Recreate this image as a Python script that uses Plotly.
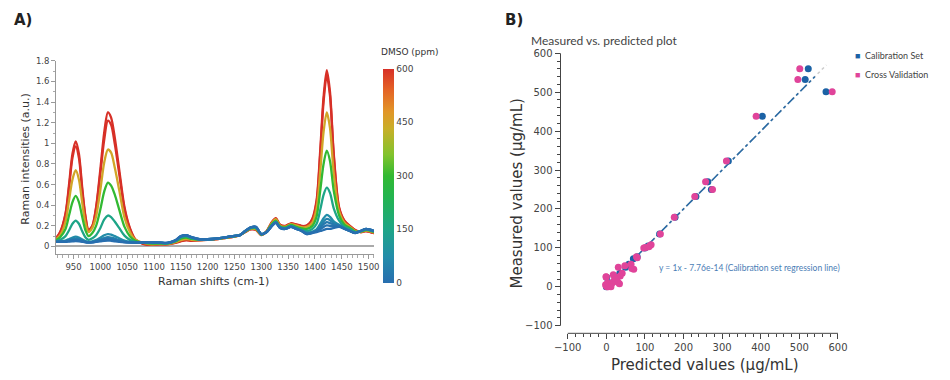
import plotly.graph_objects as go
from plotly.colors import sample_colorscale

# ---------------- Panel A data: Raman spectra ----------------
raman_shift = [917, 925, 935, 942, 948, 954, 960, 966, 972, 978, 985, 992, 1000, 1007, 1014, 1020,
               1027, 1035, 1045, 1055, 1065, 1080, 1095, 1110, 1125, 1140, 1150, 1160, 1170, 1185,
               1200, 1215, 1230, 1245, 1260, 1270, 1280, 1290, 1300, 1310, 1320, 1327, 1335, 1345,
               1355, 1365, 1375, 1385, 1395, 1403, 1410, 1416, 1422, 1428, 1435, 1445, 1455, 1465,
               1475, 1485, 1495, 1510]

dmso_ppm = [600, 600, 450, 300, 150, 75, 50, 25, 10, 0]

spec_600a = [.08, .14, .32, .62, .90, 1.02, .90, .58, .30, .16, .20, .38, .75, 1.10, 1.30, 1.25,
             1.05, .75, .38, .18, .07, .025, .015, .02, .02, .035, .05, .06, .055, .06,
             .065, .07, .08, .09, .11, .14, .165, .16, .11, .15, .24, .275, .21, .20,
             .225, .215, .20, .20, .27, .45, .95, 1.45, 1.71, 1.50, .90, .38, .25, .20,
             .16, .14, .15, .13]
spec_600b = [.078, .135, .31, .59, .86, .97, .86, .55, .29, .155, .195, .37, .71, 1.03, 1.22, 1.18,
             .99, .71, .36, .17, .068, .026, .017, .022, .022, .038, .055, .065, .058, .062,
             .066, .071, .081, .09, .11, .14, .168, .165, .112, .148, .235, .27, .208, .198,
             .222, .212, .198, .205, .26, .43, .91, 1.40, 1.66, 1.46, .88, .37, .245, .198,
             .158, .14, .15, .13]
spec_450 = [.07, .11, .24, .46, .65, .74, .65, .43, .23, .14, .18, .29, .55, .81, .94, .91,
            .76, .55, .28, .14, .065, .035, .02, .025, .024, .041, .062, .072, .064, .062,
            .066, .071, .081, .092, .11, .142, .17, .167, .112, .147, .23, .264, .202, .192,
            .216, .204, .187, .19, .23, .37, .74, 1.11, 1.30, 1.15, .71, .34, .23, .19,
            .15, .14, .155, .135]
spec_300 = [.06, .09, .17, .31, .43, .49, .43, .29, .16, .10, .13, .20, .36, .53, .62, .59,
            .50, .36, .19, .10, .055, .038, .028, .029, .028, .048, .075, .085, .073, .065,
            .068, .073, .083, .095, .11, .145, .175, .175, .115, .145, .22, .25, .195, .185,
            .21, .19, .175, .17, .20, .29, .55, .80, .93, .83, .54, .30, .21, .18,
            .145, .145, .16, .14]
spec_150 = [.05, .065, .10, .16, .22, .25, .22, .15, .09, .065, .08, .11, .18, .26, .30, .285,
            .24, .18, .105, .064, .045, .04, .034, .034, .031, .054, .087, .097, .081, .067,
            .069, .074, .084, .097, .11, .148, .18, .182, .118, .142, .21, .24, .188, .178,
            .20, .18, .16, .15, .17, .22, .36, .50, .57, .52, .37, .25, .19, .17,
            .14, .15, .165, .145]
spec_75 = [.046, .05, .057, .073, .087, .095, .087, .069, .052, .044, .05, .062, .085, .108, .12, .115,
           .10, .08, .057, .045, .04, .04, .037, .036, .033, .057, .094, .104, .086, .069,
           .07, .075, .085, .099, .11, .149, .183, .186, .119, .141, .205, .236, .184, .174,
           .194, .176, .156, .134, .142, .167, .221, .274, .306, .288, .244, .21, .177, .152,
           .134, .149, .168, .148]
spec_50 = [.046, .048, .053, .064, .073, .079, .073, .06, .047, .042, .045, .054, .068, .082, .09, .086,
           .076, .063, .049, .042, .039, .04, .038, .036, .034, .058, .096, .106, .087, .069,
           .07, .075, .085, .099, .11, .15, .183, .188, .12, .141, .203, .234, .183, .173,
           .193, .174, .154, .13, .139, .16, .20, .242, .268, .255, .226, .205, .175, .151,
           .132, .15, .169, .149]
spec_25 = [.045, .047, .049, .057, .063, .067, .063, .053, .044, .04, .043, .05, .061, .072, .078, .074,
           .066, .056, .045, .04, .038, .04, .039, .037, .034, .059, .098, .108, .089, .07,
           .07, .075, .085, .10, .11, .15, .184, .189, .12, .14, .202, .232, .181, .171,
           .191, .172, .152, .122, .136, .153, .184, .215, .236, .227, .211, .20, .173, .151,
           .131, .15, .17, .15]
spec_10 = [.045, .046, .047, .052, .057, .059, .057, .049, .042, .039, .041, .047, .056, .064, .068, .065,
           .058, .05, .042, .039, .038, .04, .04, .038, .035, .06, .10, .11, .09, .07,
           .07, .075, .085, .10, .11, .15, .185, .19, .12, .14, .20, .23, .18, .17,
           .19, .17, .15, .121, .133, .147, .168, .19, .205, .20, .196, .195, .172, .15,
           .13, .15, .17, .15]
spec_0 = [.045, .045, .045, .048, .05, .052, .05, .045, .04, .038, .04, .045, .05, .055, .058, .055,
          .05, .045, .04, .038, .038, .04, .04, .038, .035, .06, .10, .11, .09, .07,
          .07, .075, .085, .10, .11, .15, .185, .19, .12, .14, .20, .23, .18, .17,
          .19, .17, .15, .12, .13, .14, .15, .16, .17, .17, .18, .19, .17, .15,
          .13, .15, .17, .15]
spectra = [spec_600a, spec_600b, spec_450, spec_300, spec_150, spec_75, spec_50, spec_25, spec_10, spec_0]

cbar_ticks = [0, 150, 300, 450, 600]

# ---------------- Panel B data: measured vs predicted ----------------
cal_pred = [523, 515, 569, 404, 316, 263, 272, 232, 178, 138, 100, 108, 80, 70, 58, 50, 35, 25, 12, 5, 0, 1]
cal_meas = [560, 533, 501, 438, 323, 270, 250, 232, 179, 136, 100, 105, 77, 72, 58, 50, 35, 25, 10, 5, 0, 24]

cv_pred = [501, 496, 585, 388, 311, 257, 275, 229, 176, 140, 97, 102, 110, 116, 112, 78, 80, 71, 64, 66,
           48, 31, 41, 36, 28, 24, 34, 30, 20, 15, 10, 5, 2, 0, -2, 3, 8, 12, 0, -1, 18, 22]
cv_meas = [560, 533, 501, 438, 323, 270, 250, 232, 179, 136, 100, 101, 103, 108, 105, 77, 75, 45, 58, 47,
           54, 50, 35, 28, 24, 20, 8, 12, 15, 10, 5, 0, 0, 2, 5, 10, 3, 0, 25, 26, 31, 22]

reg_slope = 1.0
reg_intercept = -7.76e-14
reg_x = [10, 540]
identity_x = [0, 570]

# ---------------- styling ----------------
cscale = [[0.0, 'rgb(40,110,175)'], [0.12, 'rgb(35,140,170)'], [0.25, 'rgb(30,165,135)'],
          [0.4, 'rgb(35,180,80)'], [0.5, 'rgb(50,185,50)'], [0.6, 'rgb(130,195,45)'],
          [0.72, 'rgb(200,175,40)'], [0.8, 'rgb(225,150,40)'], [0.9, 'rgb(228,100,38)'],
          [1.0, 'rgb(215,48,39)']]
VER = 'DejaVu Sans'
LATO = 'Lato'
CAL_COL = '#1b62a5'
CV_COL = '#e0449a'

fig = go.Figure()

# spectra
for conc, ys in zip(dmso_ppm, spectra):
    col = sample_colorscale(cscale, [conc / 600])[0]
    fig.add_trace(go.Scatter(x=raman_shift, y=ys, mode='lines',
                             line=dict(color=col, width=2.3, shape='spline', smoothing=0.8),
                             showlegend=False, hoverinfo='skip', xaxis='x', yaxis='y'))

# colorbar carrier
fig.add_trace(go.Scatter(x=[None], y=[None], mode='markers', showlegend=False, hoverinfo='skip',
                         xaxis='x', yaxis='y',
                         marker=dict(color=[0, 600], cmin=0, cmax=600, colorscale=cscale, showscale=True,
                                     colorbar=dict(x=381 / 950, xanchor='left', xpad=0, ypad=0,
                                                   y=1 - 172.85 / 380, yanchor='middle',
                                                   lenmode='pixels', len=214, thickness=11,
                                                   outlinewidth=0, tickvals=cbar_ticks, ticks='',
                                                   tickfont=dict(family=VER, size=9, color='#444')))))

# panel B lines
fig.add_trace(go.Scatter(x=identity_x, y=identity_x, mode='lines',
                         line=dict(color='#cccccc', width=1.5, dash='dot'),
                         showlegend=False, hoverinfo='skip', xaxis='x2', yaxis='y2'))
fig.add_trace(go.Scatter(x=reg_x, y=[reg_slope * v + reg_intercept for v in reg_x], mode='lines',
                         line=dict(color='#2a6aa3', width=1.6, dash='dashdot'),
                         showlegend=False, hoverinfo='skip', xaxis='x2', yaxis='y2'))
fig.add_trace(go.Scatter(x=cal_pred, y=cal_meas, mode='markers', name='Calibration Set',
                         marker=dict(color=CAL_COL, size=7), showlegend=False,
                         xaxis='x2', yaxis='y2'))
fig.add_trace(go.Scatter(x=cv_pred, y=cv_meas, mode='markers', name='Cross Validation',
                         marker=dict(color=CV_COL, size=7), showlegend=False,
                         xaxis='x2', yaxis='y2'))

axA = dict(showgrid=False, showline=True, linecolor='#999', linewidth=1, ticks='outside',
           ticklen=4, tickcolor='#999', tickfont=dict(family=VER, size=8.5, color='#444'))
axB = dict(showgrid=False, showline=False, zeroline=False, ticks='outside', ticklen=5,
           tickcolor='#444', tickfont=dict(family=VER, size=10, color='#444'),
           dtick=100, tick0=0, minor=dict(ticks='outside', dtick=20, ticklen=3, tickcolor='#444'))

fig.update_layout(
    width=950, height=380, margin=dict(l=0, r=0, t=0, b=0),
    paper_bgcolor='white', plot_bgcolor='white', showlegend=False,
    xaxis=dict(**axA, domain=[50.7 / 950, 372.3 / 950], range=[917.5, 1510], anchor='y',
               dtick=50, tick0=950, zeroline=False,
               minor=dict(ticks='outside', dtick=10, ticklen=2.5, tickcolor='#aaa')),
    yaxis=dict(**axA, domain=[1 - 252.7 / 380, 1 - 56.6 / 380], range=[-0.0766, 1.8], anchor='x',
               dtick=0.2, tick0=0, zeroline=True, zerolinecolor='#aaa', zerolinewidth=1.5,
               minor=dict(ticks='outside', dtick=0.1, ticklen=2.5, tickcolor='#aaa')),
    xaxis2=dict(**axB, domain=[561 / 950, 847.6 / 950], range=[-118.7, 615], anchor='y2'),
    yaxis2=dict(**axB, domain=[1 - 332.7 / 380, 1 - 45 / 380], range=[-119.5, 610], anchor='x2'),
)

# panel B axis lines (span -100..600 only)
fig.add_shape(type='line', xref='x2 domain', yref='y2', x0=0, x1=0, y0=-100, y1=600,
              line=dict(color='#444', width=1))
fig.add_shape(type='line', xref='x2', yref='y2 domain', x0=-100, x1=600, y0=0, y1=0,
              line=dict(color='#444', width=1))

ann = [
    dict(text='<b>A)</b>', x=6 / 950, y=1 - 15 / 380, xanchor='left', yanchor='middle',
         font=dict(family=VER, size=15, color='#222')),
    dict(text='<b>B)</b>', x=503 / 950, y=1 - 15 / 380, xanchor='left', yanchor='middle',
         font=dict(family=VER, size=15, color='#222')),
    dict(text='Raman intensities (a.u.)', x=20 / 950, y=1 - 156 / 380, textangle=-90,
         xanchor='center', yanchor='middle', font=dict(family=VER, size=11, color='#333')),
    dict(text='Raman shifts (cm-1)', x=210 / 950, y=1 - 280 / 380, xanchor='center', yanchor='middle',
         font=dict(family=VER, size=11, color='#333')),
    dict(text='DMSO (ppm)', x=377 / 950, y=1 - 47.5 / 380, xanchor='left', yanchor='middle',
         font=dict(family=VER, size=9, color='#333')),
    dict(text='Measured vs. predicted plot', x=529 / 950, y=1 - 36 / 380, xanchor='left',
         yanchor='middle', font=dict(family=LATO, size=12, color='#444')),
    dict(text='Measured values (µg/mL)', x=517 / 950, y=1 - 191 / 380, textangle=-90,
         xanchor='center', yanchor='middle', font=dict(family=VER, size=15, color='#333')),
    dict(text='Predicted values (µg/mL)', x=707.5 / 950, y=1 - 365 / 380, xanchor='center',
         yanchor='middle', font=dict(family=VER, size=15, color='#333')),
    dict(text='y = 1x - 7.76e-14 (Calibration set regression line)', x=659 / 950, y=1 - 266 / 380,
         xanchor='left', yanchor='middle', font=dict(family=LATO, size=8.5, color='#4a7db5')),
    dict(text='<span style="color:%s">■</span>  Calibration Set' % CAL_COL, x=857 / 950,
         y=1 - 51 / 380, xanchor='left', yanchor='middle', font=dict(family=LATO, size=9, color='#444')),
    dict(text='<span style="color:%s">■</span>  Cross Validation' % CV_COL, x=857 / 950,
         y=1 - 70 / 380, xanchor='left', yanchor='middle', font=dict(family=LATO, size=9, color='#444')),
]
for a in ann:
    fig.add_annotation(xref='paper', yref='paper', showarrow=False, **a)

fig.write_html('out.html', config={'displayModeBar': False},
               post_script="document.body.style.margin='0';document.body.style.overflow='hidden';")
